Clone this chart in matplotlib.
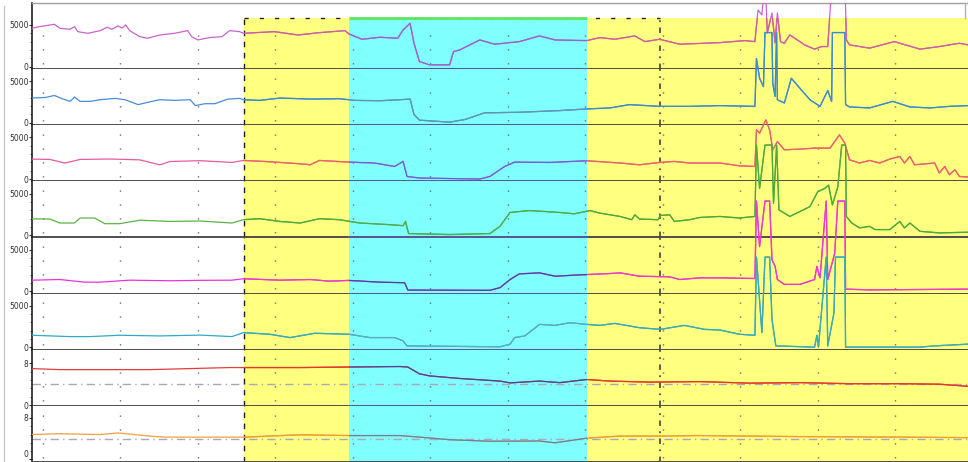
import matplotlib

matplotlib.use("Agg")
import matplotlib.pyplot as plt  # noqa: E402
from matplotlib.lines import Line2D  # noqa: E402
from matplotlib.patches import Rectangle  # noqa: E402

# Eight recorder channels, time in seconds (dotted grid every 10 s).
# Channels 1-6 are on a 0..5000 scale, 7-8 on a 0..8 scale.
T1 = [-1.4, -0.4, 1.5, 2.2, 3.5, 4.1, 4.5, 5.8, 7.4, 8.3, 8.9, 9.7, 10.2, 10.7, 11.2, 12.5, 13.5,
      15.1, 17.0, 18.7, 19.2, 20.0, 21.5, 23.1, 24.1, 25.4, 25.9, 29.9, 32.9, 35.7, 39.0, 39.5,
      41.2, 43.5, 45.8, 46.5, 47.4, 47.9, 48.6, 49.9, 52.5, 53.0, 53.8, 56.4, 58.3, 61.5, 64.1,
      66.1, 70.2, 71.9, 73.8, 76.4, 77.7, 79.6, 82.2, 87.4, 90.6, 91.9, 92.3, 92.8, 93.2, 93.5,
      94.1, 94.5, 94.8, 95.2, 95.7, 96.4, 97.7, 98.3, 99.6, 100.5, 101.3, 101.9, 103.5, 103.7,
      104.1, 106.7, 109.9, 113.2, 115.7, 118.3, 119.4]
V1 = [4600, 4800, 5080, 4600, 4480, 4800, 4200, 4000, 4320, 4720, 4480, 4880, 4640, 5000, 4320,
      3600, 3410, 3800, 4000, 4320, 3600, 3210, 3490, 3600, 4320, 4200, 4000, 4200, 3800, 4080,
      4320, 3930, 3290, 3530, 3410, 4400, 5200, 2820, 630, 240, 240, 1820, 2020, 3210, 2700,
      3010, 3690, 3210, 3130, 3490, 3290, 3690, 3010, 3290, 2700, 2890, 3130, 3010, 6780, 6190,
      10850, 4040, 6430, 2860, 6430, 3010, 2820, 3810, 3010, 2620, 2110, 2420, 2420, 10850,
      10850, 3210, 2620, 2230, 3010, 2110, 2420, 2820, 2620]

T2 = [-1.4, 0.3, 1.5, 2.5, 3.5, 4.1, 4.8, 6.1, 7.4, 9.3, 10.6, 12.3, 13.5, 15.1, 17.0, 19.0, 19.7,
      20.9, 22.2, 23.9, 25.4, 25.9, 28.0, 30.6, 34.5, 38.3, 40.3, 43.5, 46.1, 47.4, 47.9, 48.6,
      52.5, 54.5, 57.0, 61.5, 66.7, 70.2, 73.2, 75.7, 79.6, 83.5, 87.4, 91.9, 92.1, 92.5, 93.0,
      93.2, 94.1, 94.2, 94.5, 94.7, 94.8, 95.7, 96.6, 97.7, 99.0, 100.3, 101.3, 101.8, 101.9,
      103.5, 103.6, 104.1, 106.7, 109.7, 111.9, 114.5, 117.0, 119.4]
V2 = [2960, 3030, 3270, 2880, 2560, 3080, 2560, 2560, 2760, 2920, 2760, 2170, 2440, 2760, 2680,
      2760, 2050, 2280, 2280, 2840, 2920, 2760, 2680, 2960, 2840, 2880, 2680, 2640, 2760, 2840,
      980, 300, 60, 380, 1180, 1250, 1450, 1650, 1770, 2170, 1960, 1960, 2050, 1960, 7720, 5340,
      4340, 10850, 10850, 4750, 3150, 10850, 2760, 2370, 5340, 4150, 2760, 1960, 3870, 2560,
      10850, 10850, 2170, 1890, 1770, 2560, 1890, 1770, 1960, 2050]

T3 = [-1.4, 0.9, 2.8, 3.7, 4.8, 8.6, 12.5, 13.8, 15.1, 16.4, 20.3, 24.4, 25.9, 28.6, 30.6, 33.2,
      34.5, 35.7, 39.5, 42.8, 45.4, 46.5, 47.0, 48.6, 56.4, 57.7, 59.6, 60.9, 65.4, 70.2, 74.5,
      77.0, 79.6, 81.5, 83.5, 87.4, 89.9, 91.9, 92.1, 92.5, 92.9, 93.3, 93.8, 94.2, 94.8, 95.7,
      97.7, 99.6, 101.6, 102.8, 103.5, 104.1, 105.4, 106.7, 108.0, 109.3, 110.6, 111.2, 111.9,
      112.5, 115.1, 115.7, 116.4, 117.0, 117.7, 118.3, 119.4]
V3 = [2390, 2350, 1920, 2100, 2350, 2400, 2300, 2000, 1700, 2100, 2200, 1990, 2230, 2110, 1990,
      1830, 1710, 2230, 2030, 1920, 1510, 2110, 320, 130, 10, 320, 1510, 2030, 1990, 2190, 1920,
      1710, 1990, 2110, 1920, 1920, 1590, 1510, 5880, 5490, 6270, 7070, 5880, 3500, 4490, 3500,
      3580, 3700, 3700, 5280, 4300, 2310, 1920, 2230, 1920, 2390, 2700, 1920, 2700, 1710, 1920,
      730, 1510, 520, 1120, 320, 250]

T4 = [-1.4, 0.9, 2.2, 4.1, 4.8, 6.7, 8.0, 9.9, 12.5, 16.4, 20.3, 24.4, 25.9, 28.0, 30.6, 33.2,
      35.7, 38.3, 40.9, 44.8, 46.5, 46.8, 47.2, 52.5, 57.7, 59.0, 60.3, 62.8, 66.7, 68.6, 70.6,
      71.9, 74.5, 76.0, 76.4, 77.0, 79.4, 79.7, 80.9, 81.5, 83.5, 84.8, 87.4, 89.9, 91.9, 92.1,
      92.5, 93.2, 94.1, 94.3, 94.7, 95.0, 95.7, 96.4, 97.7, 99.0, 100.0, 100.9, 101.4, 101.9,
      102.6, 103.1, 103.6, 103.7, 104.4, 105.4, 106.7, 107.4, 109.3, 110.6, 111.2, 111.9, 113.2,
      115.7, 119.4]
V4 = [1960, 1940, 1460, 1460, 2060, 2060, 1380, 1380, 1800, 1650, 1700, 1460, 1860, 1980, 1650,
      1460, 1980, 1860, 1460, 1260, 1140, 1650, 190, 70, 190, 1060, 2730, 2960, 2730, 2570, 2960,
      2650, 2250, 1860, 2450, 1940, 1860, 2370, 2450, 1650, 1860, 2130, 2250, 2060, 2250, 10850,
      5620, 10850, 10850, 3840, 10850, 3050, 2650, 2250, 2840, 3440, 5220, 5620, 6020, 3640, 5820,
      10850, 10850, 2250, 1460, 870, 1060, 670, 670, 1650, 870, 1460, 460, 270, 350]

T5 = [-1.4, 2.2, 5.4, 7.4, 11.2, 16.4, 20.3, 24.4, 25.9, 30.6, 34.5, 37.0, 39.5, 43.5, 46.7, 47.1,
      57.7, 59.0, 60.3, 61.5, 64.1, 66.1, 70.2, 73.2, 74.5, 77.0, 80.9, 82.2, 84.8, 87.4, 91.9,
      92.1, 92.5, 93.2, 93.8, 94.1, 94.5, 94.8, 95.7, 97.7, 99.6, 99.9, 100.3, 101.1, 101.3,
      102.2, 102.6, 103.5, 103.6, 106.7, 119.4]
V5 = [1320, 1400, 1080, 1080, 1320, 1250, 1300, 1320, 1490, 1320, 1400, 1200, 1290, 1080, 1010,
      130, 100, 420, 1400, 2080, 2200, 1800, 2000, 2120, 2200, 1800, 1720, 1400, 1600, 1600, 1520,
      10850, 5370, 10850, 10850, 3780, 2990, 1400, 810, 810, 1400, 2990, 1600, 10850, 1400, 4580,
      10850, 10850, 240, 150, 240]

T6 = [-1.4, 3.5, 6.1, 9.9, 15.1, 20.3, 24.4, 25.9, 29.3, 31.9, 35.1, 39.5, 42.2, 45.4, 46.5, 47.0,
      59.0, 60.3, 60.9, 62.2, 64.1, 66.1, 68.0, 70.2, 71.9, 73.8, 77.0, 79.7, 82.8, 85.4, 87.4,
      89.9, 91.9, 92.1, 92.8, 93.2, 93.8, 94.1, 94.6, 99.6, 99.9, 100.1, 101.1, 101.3, 102.1,
      102.3, 103.5, 103.6, 113.2, 115.1, 119.4]
V6 = [1430, 1270, 1270, 1430, 1350, 1450, 1270, 1750, 1550, 1150, 1670, 1550, 1150, 1150, 750,
      150, 40, 360, 1150, 1350, 2740, 2620, 2940, 2740, 2620, 2860, 2340, 2140, 2620, 2140, 2060,
      1550, 1430, 10850, 1750, 10850, 10850, 3330, 150, 0, 1430, 0, 10850, 150, 4130, 10850,
      10850, 0, 0, 150, 360]

T7 = [-1.4, 2.2, 13.8, 24.1, 33.2, 39.5, 46.1, 47.1, 48.6, 49.9, 53.8, 59.0, 60.3, 64.1, 66.7,
      70.2, 73.2, 78.3, 84.8, 91.2, 97.7, 104.1, 110.6, 115.7, 119.4]
V7 = [7.0, 6.8, 6.8, 7.2, 7.2, 7.3, 7.4, 7.3, 6.0, 5.6, 5.1, 4.6, 4.25, 4.6, 4.3, 4.9, 4.6, 4.4,
      4.5, 4.2, 4.3, 4.1, 4.1, 4.0, 3.6]

T8 = [-1.4, 2.2, 7.4, 9.7, 13.8, 15.7, 26.1, 33.2, 39.5, 46.1, 48.6, 52.5, 57.7, 64.1, 66.1, 70.2,
      74.5, 79.6, 84.8, 97.7, 110.6, 119.4]
V8 = [4.8, 4.95, 4.8, 5.1, 4.5, 4.3, 4.3, 4.75, 4.6, 4.6, 4.3, 3.8, 3.5, 3.55, 3.2, 4.1, 4.5, 4.5,
      4.6, 4.4, 4.3, 4.2]

CHANNELS = [(T1, V1), (T2, V2), (T3, V3), (T4, V4), (T5, V5), (T6, V6), (T7, V7), (T8, V8)]
FULL_SCALE = [5000, 5000, 5000, 5000, 5000, 5000, 8, 8]
REF_LEVEL = [None, None, None, None, None, None, 4, 4]

# event windows (s)
YELLOW_A = (25.9, 39.5)
CYAN_WIN = (39.5, 70.2)
YELLOW_B = (70.2, 125.0)
MARKER_T = 79.7
XLIM = (-1.4, 119.4)
GRID_T = range(0, 120, 10)

COL_PLAIN = ["#c864c8", "#4a8cdc", "#e65aa0", "#5ab446", "#e632dc", "#2eaac8", "#e63c3c", "#f0a03c"]
COL_YELLOW = ["#d0609c", "#3c8cc8", "#ec6464", "#50a83c", "#ec3cc8", "#3caab4", "#e03c28", "#eba03c"]
COL_CYAN = ["#9664c8", "#6496aa", "#6464dc", "#50aa50", "#4646a0", "#64aabe", "#46469a", "#6482aa"]

W, H = 968, 462
heights = [66, 56, 56.5, 56, 56, 56, 56.5, 56]
ylims = [(-260, 7620)] + [(-285, 6460)] * 5 + [(-0.19, 10.67), (-0.5, 10.3)]
SHADE_TOP = 5830  # top edge of the shaded windows, channel-1 units

fig = plt.figure(figsize=(W / 100, H / 100), dpi=100)
gs = fig.add_gridspec(8, 1, height_ratios=heights, left=32 / W, right=1.0,
                      top=1 - 3 / H, bottom=0.0, hspace=0)
axes = []
for i in range(8):
    ax = fig.add_subplot(gs[i], sharex=axes[0] if axes else None)
    axes.append(ax)
top_ax = axes[0]


def clip_rect(x0, x1, ytop):
    # clip region in channel-1 data coordinates, open downwards
    return Rectangle((x0, -1e6), x1 - x0, ytop + 1e6, transform=top_ax.transData)


for i, ax in enumerate(axes):
    ax.set_xlim(*XLIM)
    ax.set_ylim(*ylims[i])
    lo, hi = ylims[i]
    ymax = (SHADE_TOP - lo) / (hi - lo) if i == 0 else 1.0

    ax.axvspan(*YELLOW_A, ymax=ymax, color="#ffff80", lw=0, zorder=0)
    ax.axvspan(*CYAN_WIN, ymax=ymax, color="#80ffff", lw=0, zorder=0)
    ax.axvspan(*YELLOW_B, ymax=ymax, color="#ffff80", lw=0, zorder=0)

    for t in GRID_T:
        ax.axvline(t, ymin=0.08, ymax=ymax * 0.9, color="#707070", lw=1, ls=(0, (1, 9)), zorder=1)
    ax.axvline(YELLOW_A[0], ymax=ymax, color="#202020", lw=1, ls=(0, (4, 4)), zorder=1.5)
    ax.axvline(MARKER_T, ymax=ymax, color="#505050", lw=1.3, ls=(0, (3, 3, 1, 3)), zorder=1.5)

    if REF_LEVEL[i] is not None:
        ax.axhline(REF_LEVEL[i], color="#a8a8b8", lw=1, ls=(0, (6, 3, 1, 3)), zorder=1.2)

    full = FULL_SCALE[i]
    ax.set_yticks([0, full])
    ax.set_yticklabels(["0", str(full)])
    ax.set_yticks([full * k / 5 for k in range(1, 5)], minor=True)
    ax.tick_params(axis="y", which="major", length=2, width=0.8, pad=0.5,
                   labelsize=5.5, labelcolor="#303030", color="#303030")
    ax.tick_params(axis="y", which="minor", length=1.2, width=0.6, color="#505050")
    ax.tick_params(axis="x", which="both", bottom=False, labelbottom=False)

    ax.spines["right"].set_visible(False)
    ax.spines["left"].set_color("#202020")
    ax.spines["left"].set_linewidth(1.2)
    ax.spines["bottom"].set_color("#404040")
    ax.spines["bottom"].set_linewidth(1.3)
    if i == 0:
        ax.spines["top"].set_color("#a0a0a0")
        ax.spines["top"].set_linewidth(1)
    else:
        ax.spines["top"].set_visible(False)

    # divider looks bluish inside the cyan window
    if i < 7:
        ax.plot(CYAN_WIN, [0, 0], color="#5a5aa0", lw=1.3, zorder=2.6, clip_on=False,
                transform=ax.get_xaxis_transform())

# the bottom zero label sits on the figure edge; keep it above the edge
axes[-1].get_yticklabels()[0].set_verticalalignment("bottom")

# window decorations along the top of the first channel
top_ax.hlines(SHADE_TOP - 60, YELLOW_A[0], MARKER_T, color="#202020", lw=1,
              ls=(0, (3, 8)), zorder=1.6)
top_ax.hlines(SHADE_TOP + 40, *CYAN_WIN, color="#5ee65e", lw=2, zorder=1.7)

# traces are allowed to overshoot into the channel above, up to the plot top
plot_top = ylims[0][1]
for i, (t, v) in enumerate(CHANNELS):
    ax = axes[i]
    base, = ax.plot(t, v, color=COL_PLAIN[i], lw=0.9, zorder=3)
    base.set_clip_path(clip_rect(XLIM[0], XLIM[1] + 5, plot_top))
    for (x0, x1), cols in ((YELLOW_A, COL_YELLOW), (YELLOW_B, COL_YELLOW), (CYAN_WIN, COL_CYAN)):
        seg, = ax.plot(t, v, color=cols[i], lw=0.9, zorder=3.1)
        seg.set_clip_path(clip_rect(x0, x1, SHADE_TOP))

# outer frame bits
fig.add_artist(Line2D([4 / W, 4 / W], [0, 1 - 6 / H], color="#c8c8c8", lw=1,
                      transform=fig.transFigure))
fig.add_artist(Line2D([965 / W, 965 / W], [1 - 3 / H, 1 - 18 / H], color="#b0b0b0", lw=1,
                      transform=fig.transFigure))

fig.savefig("out.png", dpi=100)
